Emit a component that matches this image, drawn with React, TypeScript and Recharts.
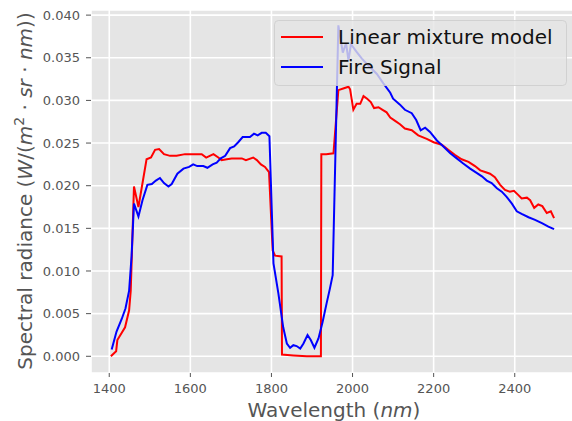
import { CartesianGrid, Line, LineChart, XAxis, YAxis } from "recharts";

const redWavelengths = [
  1404, 1417, 1420, 1439, 1449, 1453, 1461, 1472, 1492, 1503, 1513, 1523, 1535, 1550, 1566, 1587,
  1607, 1628, 1639, 1657, 1669, 1677, 1690, 1702, 1714, 1727, 1737, 1755, 1764, 1774, 1784, 1794,
  1803, 1809, 1825, 1826, 1854, 1887, 1922, 1923, 1935, 1953, 1965, 1977, 1990, 1994, 2002, 2010,
  2019, 2027, 2036, 2045, 2053, 2064, 2074, 2084, 2093, 2105, 2117, 2129, 2146, 2162, 2183, 2200,
  2220, 2236, 2253, 2269, 2286, 2302, 2315, 2327, 2339, 2351, 2364, 2376, 2388, 2398, 2409, 2417,
  2430, 2438, 2448, 2458, 2468, 2479, 2489, 2497,
];
const redRadiance = [
  0.0, 0.0006, 0.0019, 0.0034, 0.0054, 0.0077, 0.0199, 0.0175, 0.0231, 0.0233, 0.0242, 0.0243,
  0.0237, 0.0235, 0.0235, 0.0237, 0.0237, 0.0237, 0.0233, 0.0237, 0.0233, 0.023, 0.0231, 0.0232,
  0.0232, 0.0232, 0.023, 0.0233, 0.023, 0.0225, 0.0222, 0.0216, 0.0124, 0.0118, 0.0117, 0.0002,
  0.0001, 0.0, 0.0, 0.0237, 0.0237, 0.0238, 0.0312, 0.0314, 0.0316, 0.0313, 0.0289, 0.0296,
  0.0296, 0.0305, 0.0302, 0.0298, 0.0291, 0.0292, 0.0289, 0.0286, 0.028, 0.0276, 0.0272, 0.0267,
  0.0265, 0.0259, 0.0255, 0.0251, 0.0248, 0.0242, 0.0236, 0.0231, 0.0228, 0.0223, 0.0218, 0.0216,
  0.0214, 0.021, 0.0201, 0.0195, 0.0193, 0.0194, 0.0189, 0.0185, 0.0186, 0.0183, 0.0174, 0.0178,
  0.0176, 0.0168, 0.017, 0.0162,
];

const blueWavelengths = [
  1406, 1418, 1431, 1440, 1449, 1455, 1461, 1472, 1482, 1494, 1505, 1515, 1525, 1535, 1546, 1554,
  1568, 1583, 1597, 1607, 1617, 1632, 1642, 1655, 1665, 1675, 1686, 1698, 1708, 1718, 1729, 1739,
  1747, 1757, 1766, 1776, 1786, 1795, 1805, 1817, 1829, 1838, 1846, 1854, 1862, 1871, 1879, 1889,
  1897, 1906, 1916, 1926, 1936, 1944, 1951, 1965, 1976, 1984, 1990, 1996, 2010, 2023, 2039, 2060,
  2076, 2093, 2100, 2117, 2129, 2146, 2157, 2168, 2179, 2191, 2208, 2224, 2241, 2257, 2273, 2290,
  2306, 2319, 2331, 2343, 2356, 2368, 2380, 2393, 2405, 2417, 2434, 2450, 2467, 2483, 2497,
];
const blueRadiance = [
  0.0008, 0.0029, 0.0044, 0.0056, 0.0077, 0.0117, 0.0179, 0.0164, 0.0183, 0.0201, 0.0202, 0.0206,
  0.0209, 0.0203, 0.0199, 0.0202, 0.0214, 0.022, 0.0222, 0.0225, 0.0223, 0.0223, 0.0221, 0.0225,
  0.0227, 0.0232, 0.0235, 0.0244, 0.0246, 0.0251, 0.0257, 0.0257, 0.0257, 0.0261, 0.0259, 0.0262,
  0.0262, 0.0258, 0.0109, 0.0074, 0.0034, 0.0015, 0.001, 0.0013, 0.0012, 0.0009, 0.0015, 0.0025,
  0.0019, 0.001, 0.0021, 0.004, 0.0062, 0.0079, 0.0095, 0.0388, 0.0356, 0.0367, 0.0347, 0.0366,
  0.0357, 0.0349, 0.0341, 0.0331, 0.032, 0.0309, 0.0302, 0.0295, 0.0289, 0.0285, 0.0277, 0.0265,
  0.0268, 0.0263, 0.0253, 0.0246, 0.0238, 0.0232, 0.0226, 0.022, 0.0215, 0.0211, 0.0206, 0.0203,
  0.0197, 0.0193, 0.0187, 0.0179, 0.017, 0.0167, 0.0163, 0.016, 0.0156, 0.0152, 0.0149,
];

const xTicks = [1400, 1600, 1800, 2000, 2200, 2400];
const yTicks = [0, 0.005, 0.01, 0.015, 0.02, 0.025, 0.03, 0.035, 0.04];

const redData = redWavelengths.map((x, i) => ({ x, v: redRadiance[i] }));
const blueData = blueWavelengths.map((x, i) => ({ x, v: blueRadiance[i] }));

const FONT = "DejaVu Sans";
const tickStyle = { fill: "#555555", fontSize: 13, fontFamily: FONT };

function XLabel() {
  return (
    <text x={334} y={417} textAnchor="middle" fill="#555555" fontSize={20} fontFamily={FONT}>
      Wavelength (<tspan fontStyle="italic">nm</tspan>)
    </text>
  );
}

function YLabel() {
  return (
    <text
      transform="translate(32,191) rotate(-90)"
      textAnchor="middle"
      fill="#555555"
      fontSize={20}
      fontFamily={FONT}
    >
      Spectral radiance (<tspan fontStyle="italic">W</tspan>/(<tspan fontStyle="italic">m</tspan>
      <tspan fontSize={14} dy={-8}>2</tspan>
      <tspan dy={8}> · </tspan>
      <tspan fontStyle="italic">sr</tspan> · <tspan fontStyle="italic">nm</tspan>))
    </text>
  );
}

function LegendBox() {
  return (
    <svg
      width={572}
      height={421}
      style={{ position: "absolute", left: 0, top: 0, pointerEvents: "none" }}
    >
      <rect
        x={274.5}
        y={20.5}
        width={292}
        height={65}
        rx={4}
        fill="rgba(229,229,229,0.8)"
        stroke="rgba(204,204,204,0.8)"
      />
      <line x1={281} y1={37} x2={323} y2={37} stroke="#ff0000" strokeWidth={2} />
      <text x={338} y={44} fontSize={20} fontFamily={FONT} fill="#111">
        Linear mixture model
      </text>
      <line x1={281} y1={67} x2={323} y2={67} stroke="#0000ff" strokeWidth={2} />
      <text x={338} y={74} fontSize={20} fontFamily={FONT} fill="#111">
        Fire Signal
      </text>
    </svg>
  );
}

export default function App() {
  return (
    <div
      style={{
        position: "absolute",
        left: 0,
        top: 0,
        width: 572,
        height: 421,
        overflow: "hidden",
        background: "#fff",
      }}
    >
      <LineChart width={578} height={421} margin={{ top: 10, right: 0, left: 0, bottom: 0 }}>
        <CartesianGrid fill="#E5E5E5" stroke="#ffffff" strokeWidth={1.6} />
        <XAxis
          type="number"
          dataKey="x"
          domain={[1355, 2556]}
          ticks={xTicks}
          allowDataOverflow
          height={48}
          axisLine={false}
          tickSize={4}
          tickMargin={7}
          tickLine={{ stroke: "#555555" }}
          tick={tickStyle}
          label={<XLabel />}
        />
        <YAxis
          type="number"
          dataKey="v"
          domain={[-0.00196, 0.0406]}
          ticks={yTicks}
          allowDataOverflow
          width={91}
          axisLine={false}
          tickSize={5}
          tickMargin={6}
          tickLine={{ stroke: "#555555" }}
          tick={tickStyle}
          tickFormatter={(v: number) => v.toFixed(3)}
          label={<YLabel />}
        />
        <Line
          data={redData}
          dataKey="v"
          type="linear"
          stroke="#ff0000"
          strokeWidth={2}
          dot={false}
          isAnimationActive={false}
        />
        <Line
          data={blueData}
          dataKey="v"
          type="linear"
          stroke="#0000ff"
          strokeWidth={2}
          dot={false}
          isAnimationActive={false}
        />
      </LineChart>
      <LegendBox />
    </div>
  );
}
